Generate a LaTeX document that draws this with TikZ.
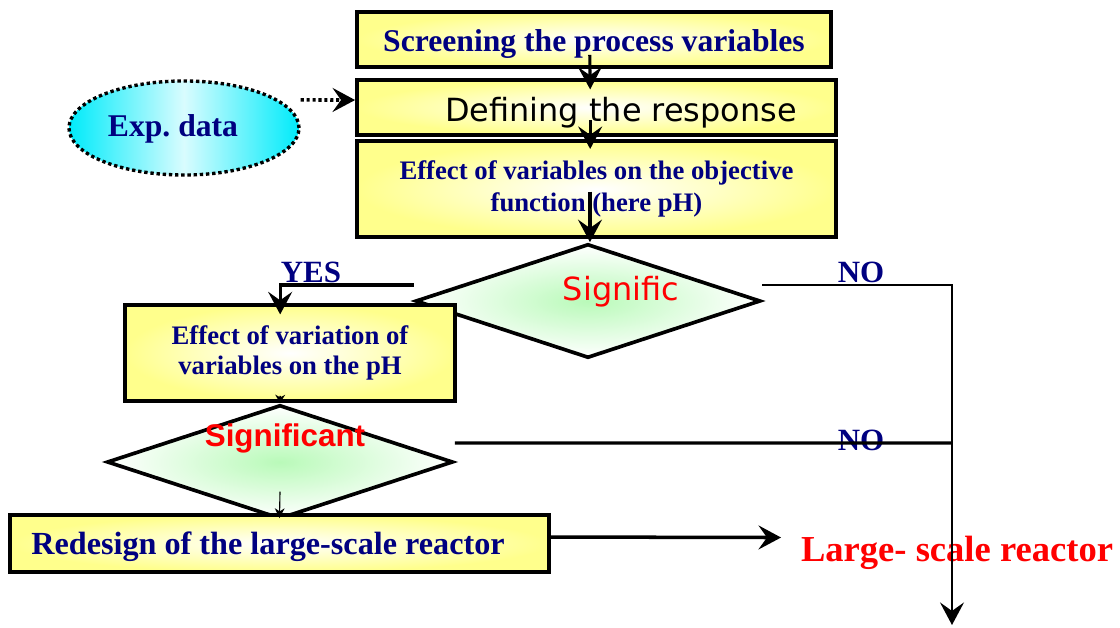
\documentclass[tikz,border=0pt]{standalone}
\usepackage{fontspec}
\setmainfont{Liberation Serif}
\newfontfamily\dejavu{DejaVu Sans}
\newfontfamily\arialfont{Liberation Sans}
\usetikzlibrary{arrows.meta,shapes.geometric,positioning}

\definecolor{navytext}{RGB}{0,0,128}
\definecolor{boxyellow}{RGB}{255,255,140}
\definecolor{expcyan}{RGB}{0,235,250}
\definecolor{diagreen}{RGB}{185,250,185}

\tikzset{
  stepbox/.style={draw, line width=2.6pt, inner color=white, outer color=boxyellow,
    text=navytext, font=\bfseries\fontsize{22}{26}\selectfont, align=center, inner sep=0pt},
  steptext/.style={text=navytext, font=\bfseries\fontsize{22.7}{26}\selectfont, inner sep=0pt},
  decision/.style={diamond, draw, line width=2.6pt, inner color=diagreen, outer color=white,
    inner sep=0pt},
  flow/.style={line width=2.2pt, -{Stealth[length=16pt,width=17pt,inset=6pt]}},
  plainline/.style={line width=2.2pt},
  answer/.style={text=navytext, font=\bfseries\fontsize{22}{26}\selectfont, inner sep=0pt},
}

\begin{document}
\begin{tikzpicture}[x=0.025cm, y=-0.025cm]
\useasboundingbox (0,0) rectangle (1120,628);

% data source
\node[ellipse, draw, dotted, line width=2.4pt, left color=expcyan, right color=expcyan,
  middle color=expcyan!15!white, minimum width=5.75cm, minimum height=2.35cm] (exp) at (184,128) {};
\node[steptext, font=\bfseries\fontsize{22.5}{26}\selectfont] (exptxt) at (173,129) {Exp.\ data};

% main column
\node[stepbox, minimum width=11.85cm, minimum height=1.375cm] (screen) at (594,39.5) {};
\node[steptext, font=\bfseries\fontsize{22.5}{26}\selectfont] (screentxt) at (594,44)
  {Screening the process variables};
\node[stepbox, minimum width=11.975cm, minimum height=1.375cm] (define) at (596.5,107.5) {};
\node[text=black, font=\dejavu\fontsize{22.7}{26}\selectfont, inner sep=0pt] (definetxt)
  at (621,113) {Defining the response};
\node[stepbox, minimum width=11.975cm, minimum height=2.4cm,
  font=\bfseries\fontsize{19}{22.8}\selectfont] (effect) at (596.5,189)
  {Effect of variables on the objective\\function (here pH)};

\node[decision, minimum width=8.625cm, minimum height=2.85cm] (sig1) at (588,301) {};
\node[text=red, font=\dejavu\fontsize{22.7}{26}\selectfont, inner sep=0pt] (sig1txt)
  at (621,292) {Signific};

\node[stepbox, minimum width=8.25cm, minimum height=2.4cm,
  font=\bfseries\fontsize{19}{21.3}\selectfont] (var) at (290,353)
  {Effect of variation of\\variables on the pH};

\node[decision, minimum width=8.65cm, minimum height=2.85cm] (sig2) at (280,462) {};
\node[text=red, font=\arialfont\bfseries\fontsize{22.3}{26}\selectfont, inner sep=0pt] (sig2txt)
  at (285,438) {Significant};

\node[stepbox, minimum width=13.475cm, minimum height=1.425cm] (redesign) at (279.5,543.5) {};
\node[steptext, font=\bfseries\fontsize{22.9}{26}\selectfont] (redesigntxt) at (268,547)
  {Redesign of the large-scale reactor};

\node[text=red, font=\bfseries\fontsize{26}{30}\selectfont, inner sep=0pt] (largescale)
  at (957,553) {Large- scale reactor};

% branch labels
\node[answer] (yes) at (311,272) {YES};
\node[answer] (no1) at (861,272) {NO};
\node[answer] (no2) at (861,440) {NO};

% right-hand rail
\coordinate (rail) at (952,443);
\coordinate (railend) at (952,625);

% connectors
\draw[flow] ([xshift=-3pt,yshift=-11pt]screen.center) -- ([xshift=-4.5pt,yshift=-8pt]define.north);
\draw[flow] ([xshift=-4.5pt,yshift=-9pt]define.center) -- ([xshift=-4.5pt,yshift=-7pt]effect.north);
\draw[flow] ([xshift=1.4pt,yshift=36pt]sig1.north) -- ([xshift=1.4pt]sig1.north);
\draw[flow, dotted, line width=2.6pt] ([yshift=20pt]exp.east) -- ([yshift=5.3pt]define.west);

\draw[flow] ([yshift=11.4pt]sig1.west) -| ([xshift=-7pt,yshift=-8pt]var.north);
\draw[flow, line width=1.9pt] ([yshift=11.4pt]sig1.east) -| (railend);

\draw[-{Stealth[length=6pt,width=7pt]}, line width=1pt] ([xshift=-7pt,yshift=5pt]var.south) -- (sig2.north);
\draw[-{Stealth[length=7pt,width=7pt]}, line width=0.8pt] ([yshift=-21pt]sig2.center) -- ([yshift=-3.5pt]redesign.north);
\draw[plainline] ([yshift=13.5pt]sig2.east) -- (rail);

\draw[flow, line width=2.5pt] ([yshift=4.6pt]redesign.east) -- ([xshift=-14pt,yshift=11pt]largescale.west);

\end{tikzpicture}
\end{document}
